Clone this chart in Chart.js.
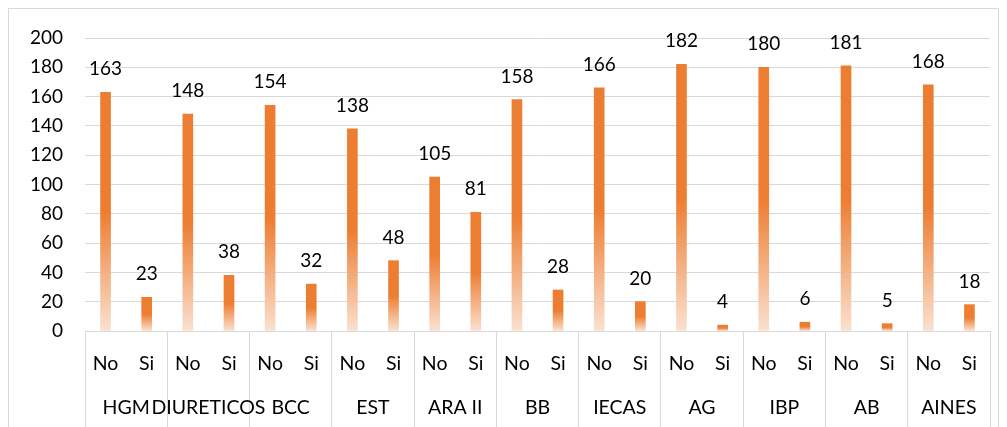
<!DOCTYPE html>
<html>
<head>
<meta charset="utf-8">
<script src="https://cdn.jsdelivr.net/npm/chart.js@4.4.1/dist/chart.umd.min.js"></script>
<style>
  html, body { margin: 0; padding: 0; background: #ffffff; }
  #wrap { position: relative; width: 1007px; height: 427px; overflow: hidden; }
  #frame { position: absolute; left: 8px; top: 8px; width: 991px; height: 440px; border: 1px solid #d9d9d9; box-sizing: border-box; }
  #chart { position: absolute; left: 0; top: 0; }
</style>
</head>
<body>
<div id="wrap">
  <div id="frame"></div>
  <canvas id="chart" width="1007" height="427"></canvas>
</div>
<script>
// Drug groups and the No / Si answer counts for each
const groups = ['HGM', 'DIURETICOS', 'BCC', 'EST', 'ARA II', 'BB', 'IECAS', 'AG', 'IBP', 'AB', 'AINES'];
const answers = ['No', 'Si'];
const noValues = [163, 148, 154, 138, 105, 158, 166, 182, 180, 181, 168];
const siValues = [23, 38, 32, 48, 81, 28, 20, 4, 6, 5, 18];
const yTicks = { min: 0, max: 200, step: 20 };

// Flatten into one category per bar: No, Si, No, Si, ...
const subLabels = [];
const barValues = [];
groups.forEach((g, i) => {
  subLabels.push(answers[0], answers[1]);
  barValues.push(noValues[i], siValues[i]);
});

const FONT = 'Lato, "Noto Sans", sans-serif';
const ORANGE = '#ED7D31';
const GRID = '#d9d9d9';

// Each bar: solid orange over its upper half, fading to pale peach at the base
function barFill(ctx) {
  if (ctx.type !== 'data') return ORANGE;
  const chart = ctx.chart;
  const y = chart.scales.y;
  if (!y || !chart.chartArea) return ORANGE;
  const top = y.getPixelForValue(ctx.raw);
  const base = y.getPixelForValue(0);
  if (base - top < 1) return ORANGE;
  const g = chart.ctx.createLinearGradient(0, top, 0, base);
  g.addColorStop(0, ORANGE);
  g.addColorStop(0.5, ORANGE);
  g.addColorStop(1, '#FAE1D0');
  return g;
}

// Value printed above each bar
const valueLabels = {
  id: 'valueLabels',
  afterDatasetsDraw(chart) {
    const c = chart.ctx;
    c.save();
    c.font = '19px ' + FONT;
    c.fillStyle = '#000000';
    c.textAlign = 'center';
    c.textBaseline = 'alphabetic';
    chart.data.datasets.forEach((ds, di) => {
      chart.getDatasetMeta(di).data.forEach((el, i) => {
        c.fillText(String(ds.data[i]), el.x, el.y - 17);
      });
    });
    c.restore();
  }
};

new Chart(document.getElementById('chart'), {
  type: 'bar',
  data: {
    labels: subLabels,
    datasets: [{
      data: barValues,
      xAxisID: 'x',
      backgroundColor: barFill,
      borderWidth: 0,
      barThickness: 10
    }]
  },
  options: {
    responsive: false,
    animation: false,
    devicePixelRatio: 1,
    layout: { padding: { top: 38, right: 17, bottom: 0, left: 0 } },
    plugins: { legend: { display: false }, tooltip: { enabled: false } },
    scales: {
      y: {
        min: yTicks.min,
        max: yTicks.max,
        ticks: { stepSize: yTicks.step, color: '#000000', font: { family: FONT, size: 19 }, padding: 22 },
        grid: { color: GRID, lineWidth: 1, drawTicks: false },
        border: { display: false },
        afterFit(scale) { scale.width = 85; }
      },
      x: {
        type: 'category',
        position: 'bottom',
        weight: 0,
        offset: true,
        ticks: {
          color: '#000000', font: { family: FONT, size: 19.5 },
          autoSkip: false, maxRotation: 0, padding: -75
        },
        grid: {
          offset: true,
          drawOnChartArea: false,
          drawTicks: true,
          tickLength: 96,
          lineWidth: 1,
          color: (ctx) => (ctx.type !== 'tick' || ctx.index % 2 === 0) ? GRID : 'rgba(0,0,0,0)'
        },
        border: { display: true, color: GRID },
        afterFit(scale) { scale.height = 55; }
      },
      x2: {
        type: 'category',
        position: 'bottom',
        weight: 1,
        labels: groups,
        offset: true,
        ticks: {
          color: '#000000', font: { family: FONT, size: 19.5 },
          autoSkip: false, maxRotation: 0, padding: 10
        },
        grid: { display: false, drawTicks: false },
        border: { display: false },
        afterFit(scale) { scale.height = 41; }
      }
    }
  },
  plugins: [valueLabels]
});
</script>
</body>
</html>
